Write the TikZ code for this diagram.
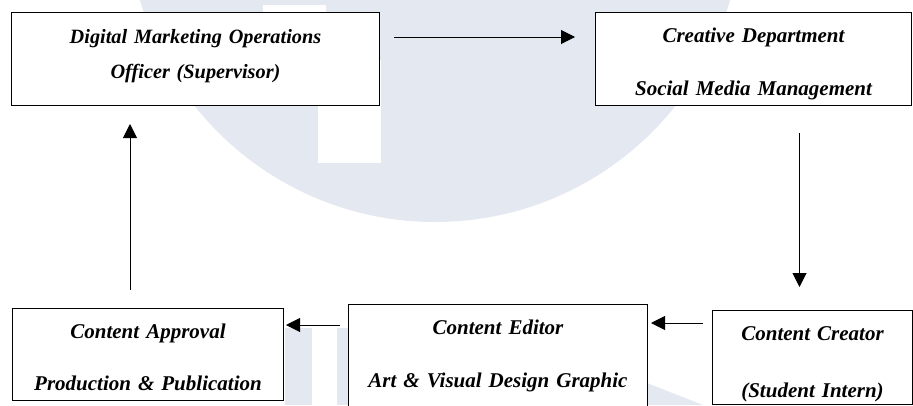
\documentclass[tikz,border=0pt]{standalone}
\usepackage{fontspec}
\setmainfont{Liberation Serif}
\usetikzlibrary{arrows.meta,calc}

\definecolor{logogray}{RGB}{228,232,240}

\begin{document}
\begin{tikzpicture}[x=1pt,y=-1pt,
    stage/.style={draw, line width=1pt, fill=white, anchor=north west,
        inner xsep=0pt, inner ysep=0pt, align=center, text height=30pt,
        font=\fontsize{21}{24}\selectfont\bfseries\itshape},
    flow/.style={line width=1pt, -{Triangle[length=14pt,width=14pt]}}]

    % Page size (one unit = one pixel, y counted from top)
    \useasboundingbox (0,0) rectangle (913,405);

    % ---- faint logo behind the chart ----
    \fill[logogray] (435,-85) circle[radius=307];
    \fill[white] (263,5) rectangle (326,105);
    \fill[white] (318,60) rectangle (381,163);
    \fill[logogray] (285,328) rectangle (312,405);
    \fill[logogray] (337,328) rectangle (360,405);
    \fill[logogray] (647,383) -- (703,405) -- (647,405) -- cycle;

    % ---- top row ----
    \node[stage, text width=368pt, text height=31pt, text depth=62pt,
          font=\fontsize{20.3}{24}\selectfont\bfseries\itshape] (sup) at (11,12)
        {Digital Marketing Operations\\[11pt]Officer (Supervisor)};
    \node[stage, text width=316pt, text depth=63pt] (creative) at (595,12)
        {Creative Department\\[29pt]Social Media Management};

    % ---- bottom row ----
    \node[stage, text width=271pt, text depth=62pt] (approval) at (12,308)
        {Content Approval\\[28pt]Production \& Publication};
    \node[stage, text width=299pt, text depth=90pt] (editor) at (348,304)
        {Content Editor\\[29pt]Art \& Visual Design Graphic};
    \node[stage, text width=200pt, text depth=64pt] (creator) at (712,310)
        {Content Creator\\[33pt](Student Intern)};

    % ---- arrows, clockwise ----
    \draw[flow, shorten <=14pt, shorten >=20pt]
        ([yshift=-25pt]sup.north east) -- ([yshift=-25pt]creative.north west);
    \draw[flow, shorten <=27pt, shorten >=23pt]
        ([xshift=46pt]creative.south) -- ([xshift=46pt]creative.south |- creator.north);
    \draw[flow, shorten <=9pt, shorten >=3pt]
        ([yshift=-13pt]creator.north west) -- ([yshift=-13pt]creator.north west -| editor.east);
    \draw[flow, shorten <=8pt, shorten >=2pt]
        ([yshift=-21pt]editor.north west) -- ([yshift=-21pt]editor.north west -| approval.east);
    \draw[flow, shorten <=18pt, shorten >=18pt]
        ([xshift=-18pt]approval.north) -- ([xshift=-18pt]approval.north |- sup.south);

\end{tikzpicture}
\end{document}
